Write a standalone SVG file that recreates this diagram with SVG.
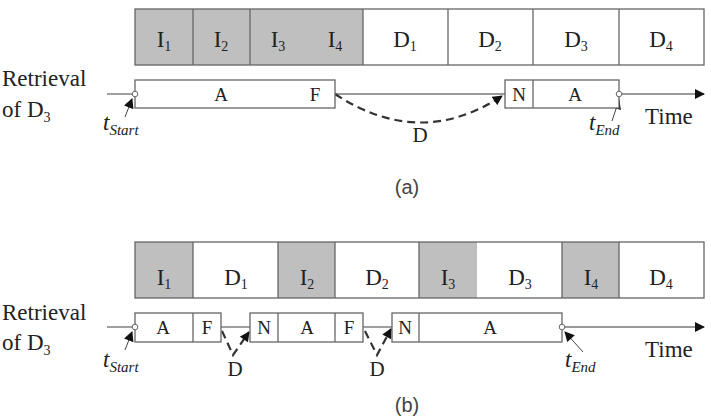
<svg xmlns="http://www.w3.org/2000/svg" width="711" height="416" viewBox="0 0 711 416">
<defs>
<style>
.cell{stroke:#666;stroke-width:1.3}
.g{fill:#bfbfbf}
.w{fill:#fff}
.t{font-family:"Liberation Serif",serif;fill:#222}
.m{text-anchor:middle}
.big{font-size:23px}
.sub{font-size:14px}
.ssub{font-size:15px}
.lab{font-size:19px}
.ann{font-size:23px}
.dl{font-size:21px}
.it{font-style:italic}
.cap{font-family:"Liberation Sans",sans-serif;font-size:20px;fill:#444;text-anchor:middle}
.line{stroke:#777;stroke-width:1.4;fill:none}
.dash{stroke:#333;stroke-width:2.2;fill:none;stroke-dasharray:8,5}
.thin{stroke:#444;stroke-width:1;fill:none}
</style>
<marker id="ah" viewBox="0 0 10 10" refX="9" refY="5" markerWidth="11" markerHeight="10" markerUnits="userSpaceOnUse" orient="auto"><path d="M0,0 L10,5 L0,10 Z" fill="#111"/></marker>
<marker id="ahs" viewBox="0 0 10 10" refX="9" refY="5" markerWidth="11" markerHeight="10" markerUnits="userSpaceOnUse" orient="auto"><path d="M0,0 L10,5 L0,10 Z" fill="#111"/></marker>
</defs>

<!-- (a) top schedule -->
<g id="a-schedule">
<rect class="g" x="135" y="9" width="228" height="56" stroke="none"/>
<rect class="w" x="363" y="9" width="341" height="56" stroke="none"/>
<rect class="cell" x="135" y="9" width="569" height="56" fill="none"/>
<line class="cell" x1="193" y1="9" x2="193" y2="65"/>
<line class="cell" x1="250" y1="9" x2="250" y2="65"/>
<line class="cell" x1="363" y1="9" x2="363" y2="65"/>
<line class="cell" x1="448" y1="9" x2="448" y2="65"/>
<line class="cell" x1="533" y1="9" x2="533" y2="65"/>
<line class="cell" x1="619" y1="9" x2="619" y2="65"/>
<text class="t big m" x="164" y="47">I<tspan class="sub" dy="4">1</tspan></text>
<text class="t big m" x="221" y="47">I<tspan class="sub" dy="4">2</tspan></text>
<text class="t big m" x="278" y="47">I<tspan class="sub" dy="4">3</tspan></text>
<text class="t big m" x="335" y="47">I<tspan class="sub" dy="4">4</tspan></text>
<text class="t big m" x="405" y="47">D<tspan class="sub" dy="4">1</tspan></text>
<text class="t big m" x="490" y="47">D<tspan class="sub" dy="4">2</tspan></text>
<text class="t big m" x="576" y="47">D<tspan class="sub" dy="4">3</tspan></text>
<text class="t big m" x="661" y="47">D<tspan class="sub" dy="4">4</tspan></text>
</g>

<!-- (a) retrieval -->
<g id="a-label">
<text class="t ann" x="2" y="86">Retrieval</text>
<text class="t ann" x="2" y="117">of D<tspan class="sub" dy="5">3</tspan></text>
</g>
<g id="a-connectors">
<line class="line" x1="107" y1="94" x2="135" y2="94"/>
<line class="line" x1="335" y1="94" x2="505" y2="94"/>
<line class="line" x1="619" y1="94" x2="704" y2="94" marker-end="url(#ahs)"/>
<path class="dash" d="M335,94 Q420,150 502,96" marker-end="url(#ah)"/>
<line class="thin" x1="125" y1="117" x2="132" y2="99" marker-end="url(#ah)"/>
<line class="thin" x1="612" y1="121" x2="619" y2="100" marker-end="url(#ah)"/>
</g>
<g id="a-boxes">
<rect class="cell w" x="135" y="80" width="200" height="28"/>
<text class="t lab m" x="221" y="101">A</text>
<text class="t lab m" x="315" y="101">F</text>
<rect class="cell w" x="505" y="80" width="114" height="28"/>
<line class="cell" x1="533" y1="80" x2="533" y2="108"/>
<text class="t lab m" x="519" y="101">N</text>
<text class="t lab m" x="575" y="101">A</text>
<circle cx="135" cy="94" r="2.8" fill="#fff" stroke="#666" stroke-width="1"/>
<circle cx="619" cy="94" r="2.8" fill="#fff" stroke="#666" stroke-width="1"/>
</g>
<g id="a-annotations">
<text class="t ann it" x="103" y="130">t<tspan class="ssub" dy="5">Start</tspan></text>
<text class="t ann it" x="589" y="130">t<tspan class="ssub" dy="5">End</tspan></text>
<text class="t ann" x="645" y="124">Time</text>
<text class="t dl m" x="420" y="142">D</text>
<text class="cap" x="407" y="194">(a)</text>
</g>

<!-- (b) top schedule -->
<g id="b-schedule">
<rect class="w" x="135" y="242" width="569" height="56" stroke="none"/>
<rect class="g" x="135" y="242" width="58" height="56"/>
<rect class="g" x="278" y="242" width="57" height="56"/>
<rect class="g" x="419" y="242" width="58" height="56"/>
<rect class="g" x="562" y="242" width="57" height="56"/>
<rect class="cell" x="135" y="242" width="569" height="56" fill="none"/>
<line class="cell" x1="193" y1="242" x2="193" y2="298"/>
<line class="cell" x1="278" y1="242" x2="278" y2="298"/>
<line class="cell" x1="335" y1="242" x2="335" y2="298"/>
<line class="cell" x1="419" y1="242" x2="419" y2="298"/>
<line class="cell" x1="562" y1="242" x2="562" y2="298"/>
<line class="cell" x1="619" y1="242" x2="619" y2="298"/>
<text class="t big m" x="164" y="285">I<tspan class="sub" dy="4">1</tspan></text>
<text class="t big m" x="236" y="285">D<tspan class="sub" dy="4">1</tspan></text>
<text class="t big m" x="307" y="285">I<tspan class="sub" dy="4">2</tspan></text>
<text class="t big m" x="377" y="285">D<tspan class="sub" dy="4">2</tspan></text>
<text class="t big m" x="448" y="285">I<tspan class="sub" dy="4">3</tspan></text>
<text class="t big m" x="520" y="285">D<tspan class="sub" dy="4">3</tspan></text>
<text class="t big m" x="591" y="285">I<tspan class="sub" dy="4">4</tspan></text>
<text class="t big m" x="661" y="285">D<tspan class="sub" dy="4">4</tspan></text>
</g>

<!-- (b) retrieval -->
<g id="b-label">
<text class="t ann" x="2" y="320">Retrieval</text>
<text class="t ann" x="2" y="350">of D<tspan class="sub" dy="5">3</tspan></text>
</g>
<g id="b-connectors">
<line class="line" x1="107" y1="327" x2="135" y2="327"/>
<line class="line" x1="221" y1="327" x2="250" y2="327"/>
<line class="line" x1="363" y1="327" x2="392" y2="327"/>
<line class="line" x1="562" y1="327" x2="704" y2="327" marker-end="url(#ahs)"/>
<path class="dash" d="M222,331 L233,355 L249,332" marker-end="url(#ah)"/>
<path class="dash" d="M365,331 L377,355 L391,329" marker-end="url(#ah)"/>
<line class="thin" x1="125" y1="350" x2="132" y2="332" marker-end="url(#ah)"/>
<line class="thin" x1="583" y1="352" x2="565" y2="332" marker-end="url(#ah)"/>
</g>
<g id="b-boxes">
<rect class="cell w" x="135" y="313" width="86" height="29"/>
<line class="cell" x1="193" y1="313" x2="193" y2="342"/>
<text class="t lab m" x="163" y="334">A</text>
<text class="t lab m" x="207" y="334">F</text>
<rect class="cell w" x="250" y="313" width="113" height="29"/>
<line class="cell" x1="278" y1="313" x2="278" y2="342"/>
<line class="cell" x1="335" y1="313" x2="335" y2="342"/>
<text class="t lab m" x="264" y="334">N</text>
<text class="t lab m" x="307" y="334">A</text>
<text class="t lab m" x="349" y="334">F</text>
<rect class="cell w" x="392" y="313" width="170" height="29"/>
<line class="cell" x1="419" y1="313" x2="419" y2="342"/>
<text class="t lab m" x="405" y="334">N</text>
<text class="t lab m" x="490" y="334">A</text>
<circle cx="135" cy="327" r="2.8" fill="#fff" stroke="#666" stroke-width="1"/>
<circle cx="562" cy="327" r="2.8" fill="#fff" stroke="#666" stroke-width="1"/>
</g>
<g id="b-annotations">
<text class="t ann it" x="103" y="367">t<tspan class="ssub" dy="5">Start</tspan></text>
<text class="t ann it" x="565" y="367">t<tspan class="ssub" dy="5">End</tspan></text>
<text class="t ann" x="645" y="357">Time</text>
<text class="t dl m" x="235" y="376">D</text>
<text class="t dl m" x="377" y="376">D</text>
<text class="cap" x="407" y="412">(b)</text>
</g>
</svg>
